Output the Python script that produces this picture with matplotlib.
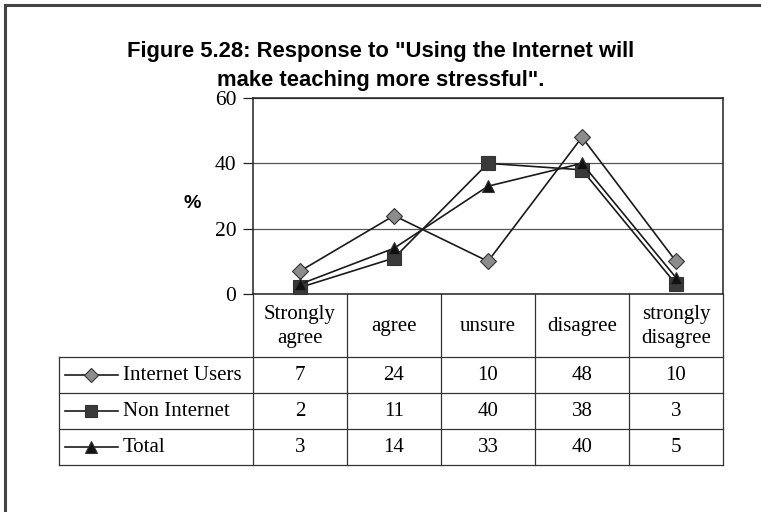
import matplotlib
matplotlib.use("Agg")
import matplotlib.pyplot as plt
from matplotlib.lines import Line2D

categories = ["Strongly\nagree", "agree", "unsure", "disagree", "strongly\ndisagree"]
series_names = ["Internet Users", "Non Internet", "Total"]
internet_users = [7, 24, 10, 48, 10]
non_internet = [2, 11, 40, 38, 3]
total = [3, 14, 33, 40, 5]
y_ticks = [0, 20, 40, 60]
title = 'Figure 5.28: Response to "Using the Internet will\nmake teaching more stressful".'

series = [internet_users, non_internet, total]
markers = ["D", "s", "^"]
mfc = ["#8c8c8c", "#3a3a3a", "#111111"]
msize = [8, 10, 9]

W, H = 761, 512
fig = plt.figure(figsize=(W / 100, H / 100), dpi=100)
serif = "Liberation Serif"
sans = "Liberation Sans"
FS = 15

# pixel layout
L, R, T, B = 253, 723, 98, 294
ax = fig.add_axes([L / W, 1 - B / H, (R - L) / W, (B - T) / H])
x = list(range(len(categories)))
for vals, m, fc, ms in zip(series, markers, mfc, msize):
    ax.plot(x, vals, color="#1a1a1a", lw=1.2, marker=m, ms=ms, mfc=fc,
            mec="#333333", mew=0.8, zorder=3, clip_on=False)
ax.set_xlim(-0.5, len(categories) - 0.5)
ax.set_ylim(0, 60)
ax.set_yticks(y_ticks)
ax.set_yticklabels([str(t) for t in y_ticks], fontfamily=serif, fontsize=FS + 0.5)
ax.set_xticks([])
ax.yaxis.grid(True, color="#555555", lw=0.9)
ax.set_axisbelow(True)
for s in ax.spines.values():
    s.set_color("#222222")
    s.set_linewidth(1.1)
ax.tick_params(axis="y", length=7, width=0.9, color="#222222", pad=5)

# overlay axes in pixel coordinates for table, title, border
ov = fig.add_axes([0, 0, 1, 1], zorder=5)
ov.set_xlim(0, W)
ov.set_ylim(H, 0)
ov.axis("off")
ov.patch.set_alpha(0)

# outer border (left and top visible)
ov.plot([5, 5], [H + 5, 5], color="#444444", lw=2.2)
ov.plot([5, W + 5], [5, 5], color="#444444", lw=2.2)

ov.text(381, 66, title, ha="center", va="center", fontfamily=sans,
        fontweight="bold", fontsize=15.8, linespacing=1.45)
ov.text(192, 203, "%", ha="center", va="center", fontfamily=sans,
        fontweight="bold", fontsize=14)

# table
col_w = (R - L) / len(categories)
col_edges = [L + i * col_w for i in range(len(categories) + 1)]
hdr_bot = 357
row_h = 36
rows_bot = hdr_bot + row_h * len(series_names)
TL = 59
lc = "#333333"
lw = 0.9
for xe in col_edges:
    ov.plot([xe, xe], [B, rows_bot], color=lc, lw=lw)
ov.plot([TL, TL], [hdr_bot, rows_bot], color=lc, lw=lw)
for i in range(len(series_names) + 1):
    yy = hdr_bot + i * row_h
    ov.plot([TL, R], [yy, yy], color=lc, lw=lw)
for i, c in enumerate(categories):
    ov.text(col_edges[i] + col_w / 2, (B + hdr_bot) / 2 + 1, c, ha="center",
            va="center", fontfamily=serif, fontsize=FS, linespacing=1.3)
for r, (name, vals) in enumerate(zip(series_names, series)):
    yc = hdr_bot + r * row_h + row_h / 2
    ov.add_line(Line2D([65, 118], [yc, yc], color="#1a1a1a", lw=1.2))
    ov.plot([91], [yc], marker=markers[r], ms=msize[r] - 1, mfc=mfc[r],
            mec="#333333", mew=0.8, color="#1a1a1a")
    ov.text(123, yc + 1, name, ha="left", va="center", fontfamily=serif, fontsize=FS)
    for i, v in enumerate(vals):
        ov.text(col_edges[i] + col_w / 2, yc + 1, str(v), ha="center", va="center",
                fontfamily=serif, fontsize=FS)

fig.savefig("out.png", dpi=100)
